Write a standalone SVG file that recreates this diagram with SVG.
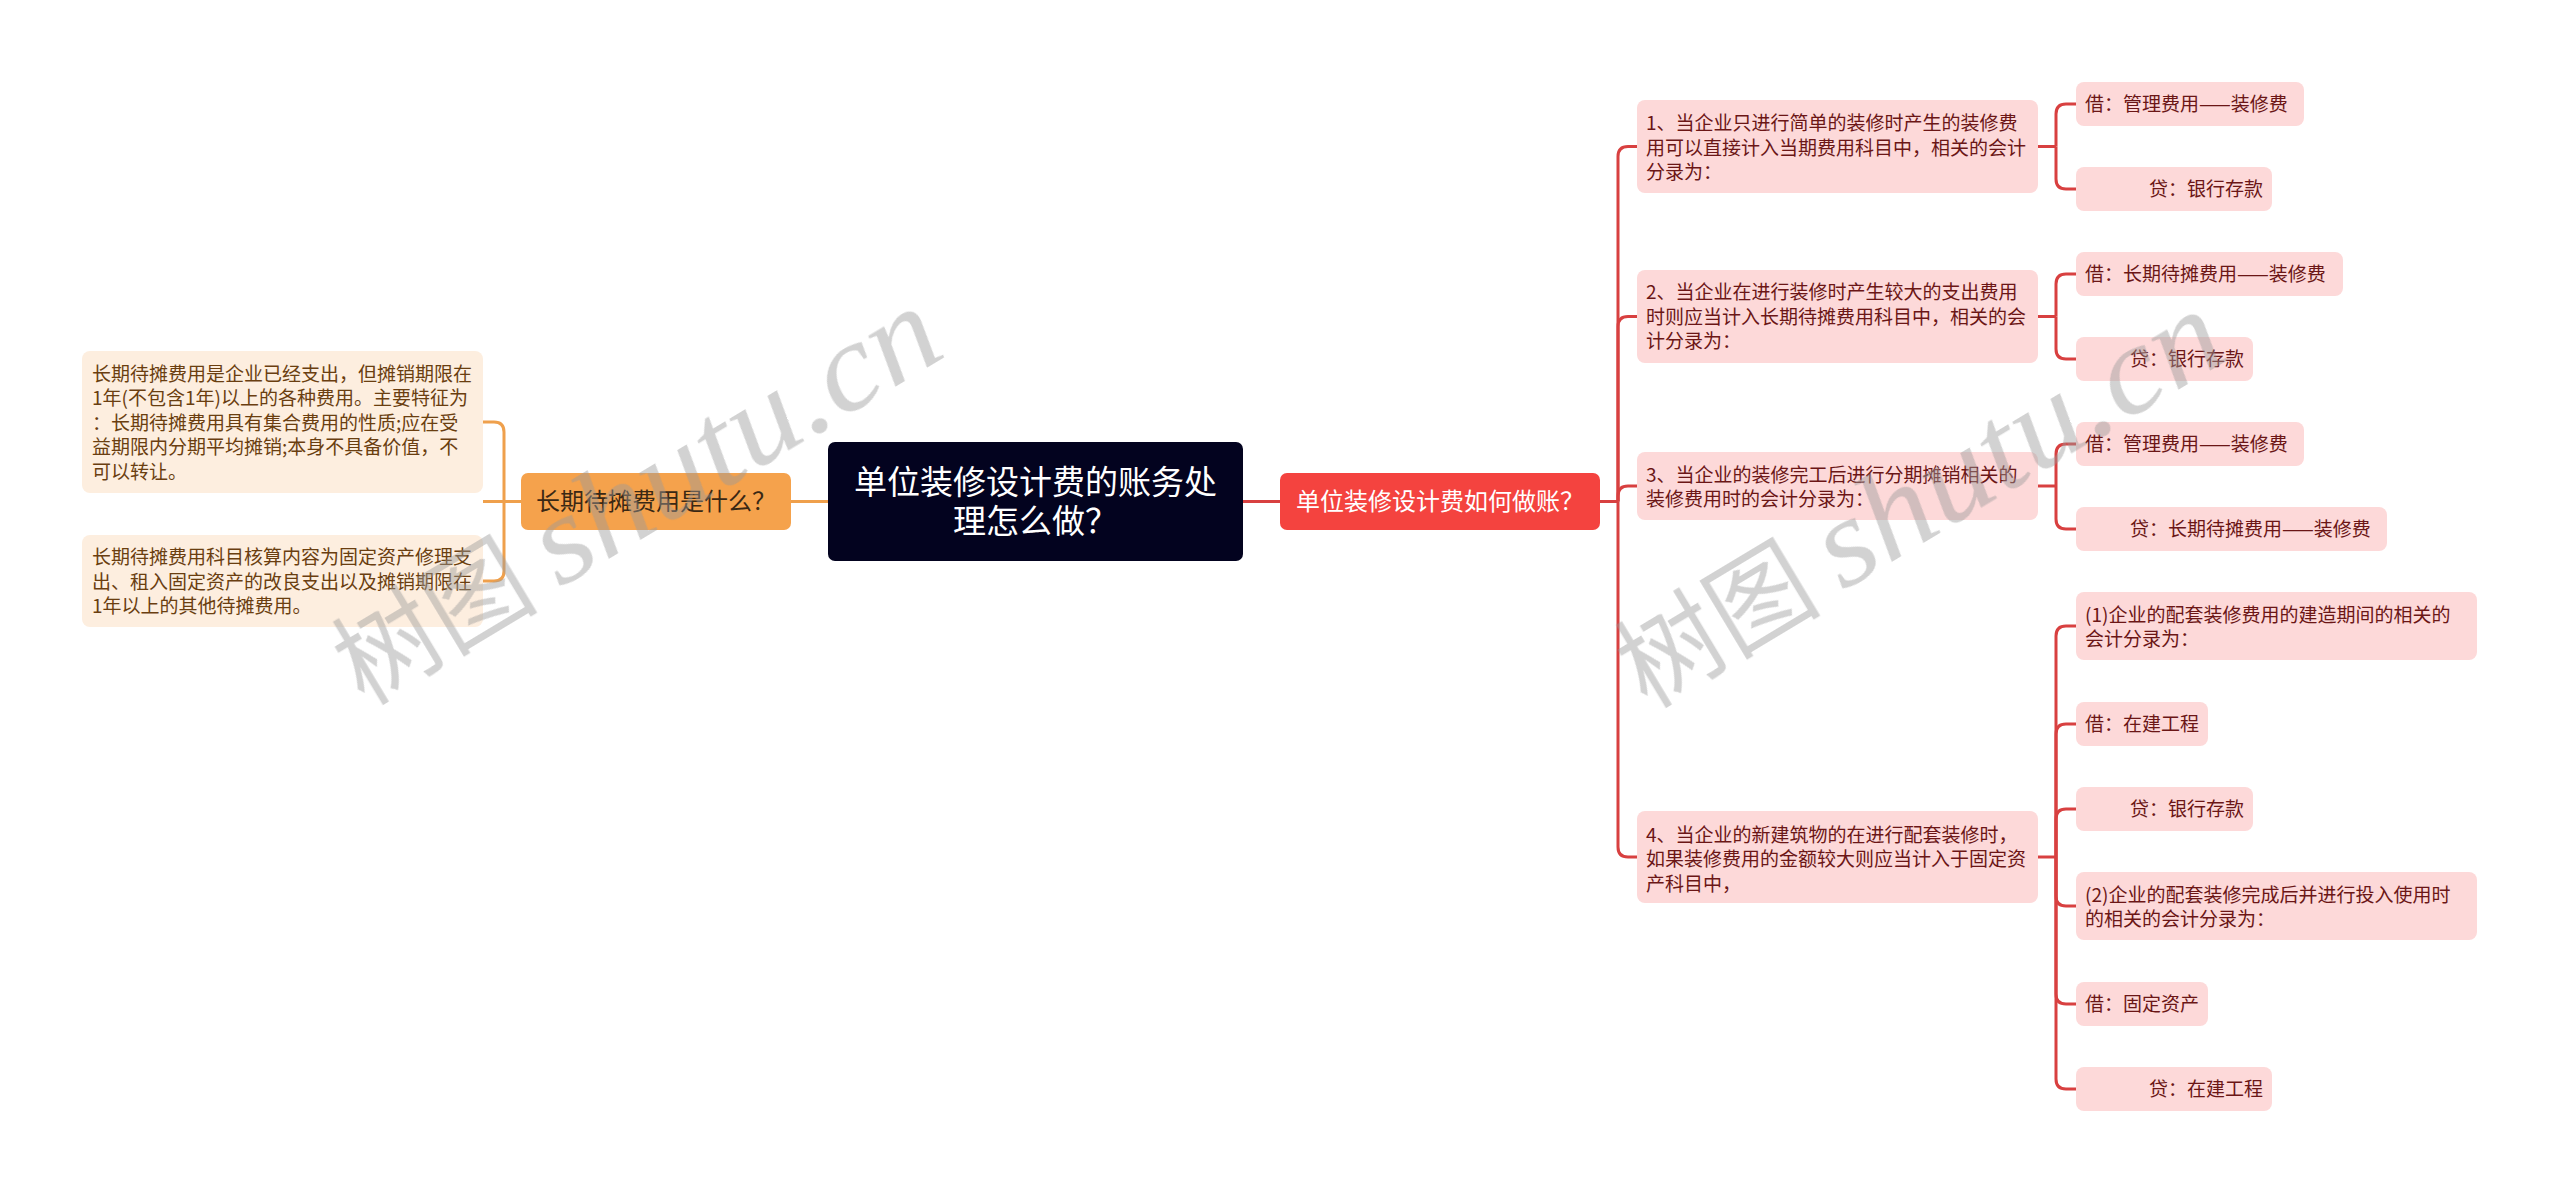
<svg xmlns="http://www.w3.org/2000/svg" width="2560" height="1192" viewBox="0 0 2560 1192">
<style>
text{font-family:"Noto Sans CJK SC","Noto Sans",sans-serif;}
.lt{font-size:19px;fill:#6a3e10;}
.rt{font-size:19px;fill:#6b1616;}
.lbox{fill:#fdeedf;}
.rbox{fill:#fdd9d9;}
.oc{fill:none;stroke:#efa04c;stroke-width:3;}
.rc{fill:none;stroke:#d84040;stroke-width:3;}
.wm{fill:#9a9a9a;opacity:0.45;}
</style>
<rect width="2560" height="1192" fill="#ffffff"/>
<g id="connectors">
<path class="oc" d="M791,501.5 H828"/>
<path class="oc" d="M521,501.5 H483"/>
<path class="oc" d="M504,501.5 V432 Q504,422 494,422 H483"/>
<path class="oc" d="M504,501.5 V571 Q504,581 494,581 H483"/>
<path class="rc" d="M1243,501.5 H1280"/>
<path class="rc" d="M1600,501.5 H1618"/>
<path class="rc" d="M1618,501.5 V156.5 Q1618,146.5 1628,146.5 H1637"/>
<path class="rc" d="M1618,501.5 V326.5 Q1618,316.5 1628,316.5 H1637"/>
<path class="rc" d="M1618,501.5 V496 Q1618,486 1628,486 H1637"/>
<path class="rc" d="M1618,501.5 V847 Q1618,857 1628,857 H1637"/>
<path class="rc" d="M2038,146.5 H2056"/>
<path class="rc" d="M2056,146.5 V114 Q2056,104 2066,104 H2076"/>
<path class="rc" d="M2056,146.5 V179 Q2056,189 2066,189 H2076"/>
<path class="rc" d="M2038,316.5 H2056"/>
<path class="rc" d="M2056,316.5 V284 Q2056,274 2066,274 H2076"/>
<path class="rc" d="M2056,316.5 V349 Q2056,359 2066,359 H2076"/>
<path class="rc" d="M2038,486 H2056"/>
<path class="rc" d="M2056,486 V454 Q2056,444 2066,444 H2076"/>
<path class="rc" d="M2056,486 V519 Q2056,529 2066,529 H2076"/>
<path class="rc" d="M2038,857 H2056"/>
<path class="rc" d="M2056,857 V636 Q2056,626 2066,626 H2076"/>
<path class="rc" d="M2056,857 V734 Q2056,724 2066,724 H2076"/>
<path class="rc" d="M2056,857 V819 Q2056,809 2066,809 H2076"/>
<path class="rc" d="M2056,857 V896 Q2056,906 2066,906 H2076"/>
<path class="rc" d="M2056,857 V994 Q2056,1004 2066,1004 H2076"/>
<path class="rc" d="M2056,857 V1079 Q2056,1089 2066,1089 H2076"/>
</g>
<g id="root">
<rect x="828" y="442" width="415" height="119" rx="7" fill="#03031f"/>
<text x="1035.5" y="494" text-anchor="middle" font-size="33" fill="#ffffff">单位装修设计费的账务处</text>
<text x="1035.5" y="532.5" text-anchor="middle" font-size="33" fill="#ffffff">理怎么做？</text>
</g>
<g id="left-main">
<rect x="521" y="473" width="270" height="57" rx="7" fill="#f5a24c"/>
<text x="656" y="510" text-anchor="middle" font-size="24" fill="#3a2814">长期待摊费用是什么？</text>
</g>
<g id="left-1">
<rect class="lbox" x="82" y="351" width="401" height="142" rx="8"/>
<text class="lt" x="92" y="380.5">长期待摊费用是企业已经支出，但摊销期限在</text>
<text class="lt" x="92" y="405">1年(不包含1年)以上的各种费用。主要特征为</text>
<text class="lt" x="92" y="429.7">：长期待摊费用具有集合费用的性质;应在受</text>
<text class="lt" x="92" y="454.3">益期限内分期平均摊销;本身不具备价值，不</text>
<text class="lt" x="92" y="479">可以转让。</text>
</g>
<g id="left-2">
<rect class="lbox" x="82" y="535" width="401" height="92" rx="8"/>
<text class="lt" x="92" y="564">长期待摊费用科目核算内容为固定资产修理支</text>
<text class="lt" x="92" y="588.5">出、租入固定资产的改良支出以及摊销期限在</text>
<text class="lt" x="92" y="613">1年以上的其他待摊费用。</text>
</g>
<g id="right-main">
<rect x="1280" y="473" width="320" height="57" rx="7" fill="#f4433f"/>
<text x="1440" y="510" text-anchor="middle" font-size="24" fill="#ffffff">单位装修设计费如何做账？</text>
</g>
<g id="r1">
<rect class="rbox" x="1637" y="100" width="401" height="93" rx="8"/>
<text class="rt" x="1646" y="130">1、当企业只进行简单的装修时产生的装修费</text>
<text class="rt" x="1646" y="154.5">用可以直接计入当期费用科目中，相关的会计</text>
<text class="rt" x="1646" y="179">分录为：</text>
</g>
<g id="r1a"><rect class="rbox" x="2076" y="82" width="228" height="44" rx="8"/><text class="rt" x="2085" y="111">借：管理费用——装修费</text></g>
<g id="r1b"><rect class="rbox" x="2076" y="167" width="196" height="44" rx="8"/><text class="rt" x="2149" y="196">贷：银行存款</text></g>
<g id="r2">
<rect class="rbox" x="1637" y="270" width="401" height="93" rx="8"/>
<text class="rt" x="1646" y="299">2、当企业在进行装修时产生较大的支出费用</text>
<text class="rt" x="1646" y="323.5">时则应当计入长期待摊费用科目中，相关的会</text>
<text class="rt" x="1646" y="348">计分录为：</text>
</g>
<g id="r2a"><rect class="rbox" x="2076" y="252" width="267" height="44" rx="8"/><text class="rt" x="2085" y="281">借：长期待摊费用——装修费</text></g>
<g id="r2b"><rect class="rbox" x="2076" y="337" width="177" height="44" rx="8"/><text class="rt" x="2130" y="366">贷：银行存款</text></g>
<g id="r3">
<rect class="rbox" x="1637" y="452" width="401" height="68" rx="8"/>
<text class="rt" x="1646" y="482">3、当企业的装修完工后进行分期摊销相关的</text>
<text class="rt" x="1646" y="506">装修费用时的会计分录为：</text>
</g>
<g id="r3a"><rect class="rbox" x="2076" y="422" width="228" height="44" rx="8"/><text class="rt" x="2085" y="451">借：管理费用——装修费</text></g>
<g id="r3b"><rect class="rbox" x="2076" y="507" width="311" height="44" rx="8"/><text class="rt" x="2130" y="536">贷：长期待摊费用——装修费</text></g>
<g id="r4">
<rect class="rbox" x="1637" y="811" width="401" height="92" rx="8"/>
<text class="rt" x="1646" y="841.5">4、当企业的新建筑物的在进行配套装修时，</text>
<text class="rt" x="1646" y="866">如果装修费用的金额较大则应当计入于固定资</text>
<text class="rt" x="1646" y="890.5">产科目中，</text>
</g>
<g id="r4a">
<rect class="rbox" x="2076" y="592" width="401" height="68" rx="8"/>
<text class="rt" x="2085" y="622">(1)企业的配套装修费用的建造期间的相关的</text>
<text class="rt" x="2085" y="646">会计分录为：</text>
</g>
<g id="r4b"><rect class="rbox" x="2076" y="702" width="132" height="44" rx="8"/><text class="rt" x="2085" y="731">借：在建工程</text></g>
<g id="r4c"><rect class="rbox" x="2076" y="787" width="177" height="44" rx="8"/><text class="rt" x="2130" y="816">贷：银行存款</text></g>
<g id="r4d">
<rect class="rbox" x="2076" y="872" width="401" height="68" rx="8"/>
<text class="rt" x="2085" y="902">(2)企业的配套装修完成后并进行投入使用时</text>
<text class="rt" x="2085" y="926">的相关的会计分录为：</text>
</g>
<g id="r4e"><rect class="rbox" x="2076" y="982" width="132" height="44" rx="8"/><text class="rt" x="2085" y="1011">借：固定资产</text></g>
<g id="r4f"><rect class="rbox" x="2076" y="1067" width="196" height="44" rx="8"/><text class="rt" x="2149" y="1096">贷：在建工程</text></g>
<g id="watermark" class="wm">
<g transform="translate(364,706) rotate(-31)">
<text x="0" y="0" font-size="105" textLength="205" lengthAdjust="spacingAndGlyphs">树图</text>
<text x="228" y="0" font-size="125" font-style="italic" style="font-family:'Liberation Serif',serif" textLength="455" lengthAdjust="spacingAndGlyphs">shutu.cn</text>
</g>
<g transform="translate(1647,709) rotate(-31)">
<text x="0" y="0" font-size="105" textLength="205" lengthAdjust="spacingAndGlyphs">树图</text>
<text x="228" y="0" font-size="125" font-style="italic" style="font-family:'Liberation Serif',serif" textLength="455" lengthAdjust="spacingAndGlyphs">shutu.cn</text>
</g>
</g>
</svg>
